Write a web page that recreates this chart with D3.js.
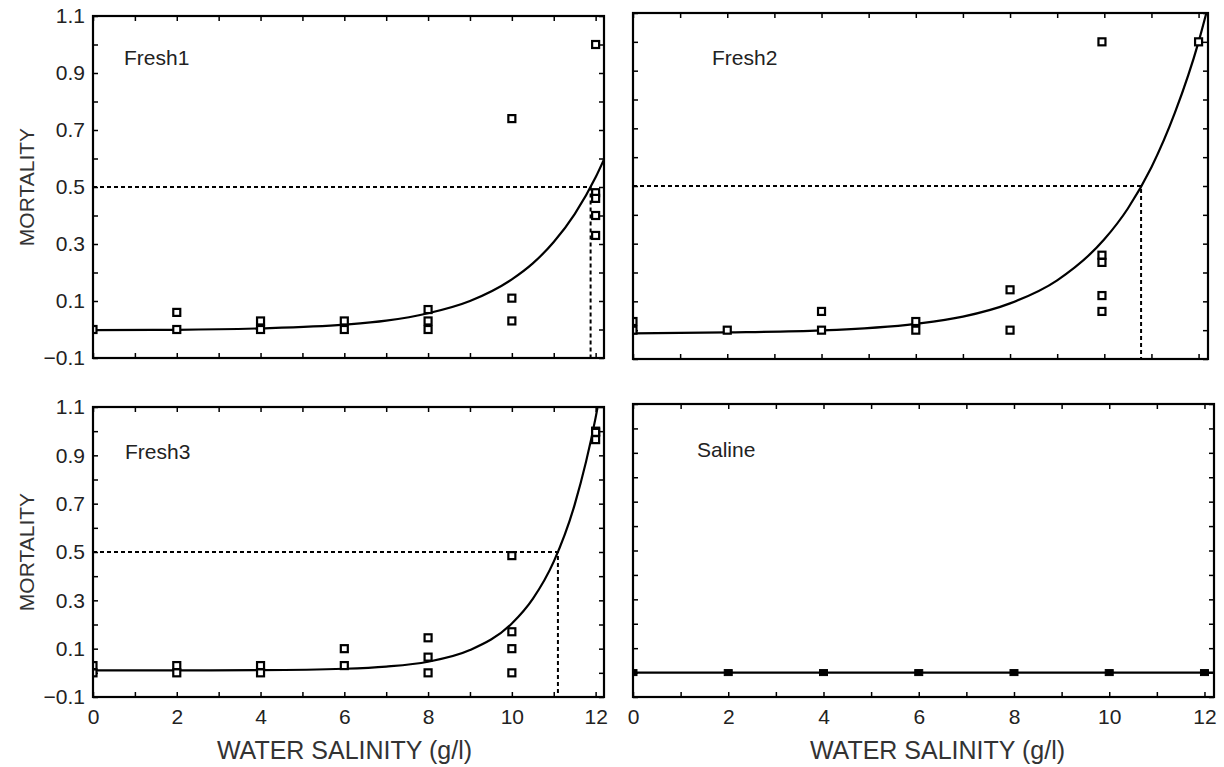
<!DOCTYPE html>
<html>
  <head>
    <meta charset="utf-8">
    <title>Mortality vs water salinity</title>
    <style>
      body { margin: 0; background: #fff; }
      svg { display: block; font-family: "Liberation Sans", Arial, sans-serif; }
      .frame { fill: none; stroke: #000; stroke-width: 2.2px; }
      .fit { fill: none; stroke: #000; stroke-width: 2.2px; }
      .lc50 { fill: none; stroke: #000; stroke-width: 2px; stroke-dasharray: 4 3; }
      .axis path { display: none; }
      .axis line { stroke: #000; stroke-width: 1.5px; }
      .axis text { fill: #222; font-size: 21px; }
    </style>
  </head>
  <body>
    <div class="chart"></div>
    <script src="https://cdn.jsdelivr.net/npm/d3@7"></script>
    <script>

// observed mortality per salinity level (g/l)
var fresh1Points = [[0, 0], [2, 0.06], [2, 0], [4, 0.03], [4, 0], [6, 0.03], [6, 0],
  [8, 0.07], [8, 0.03], [8, 0], [10, 0.74], [10, 0.11], [10, 0.03],
  [12, 1.0], [12, 0.48], [12, 0.46], [12, 0.40], [12, 0.33]];
var fresh2Points = [[0, 0], [0, 0.03], [2, 0], [4, 0.065], [4, 0], [6, 0.03], [6, 0],
  [8, 0.14], [8, 0], [9.95, 1.0], [9.95, 0.26], [9.95, 0.235], [9.95, 0.12], [9.95, 0.065],
  [12, 1.0]];
var fresh3Points = [[0, 0], [0, 0.03], [2, 0.03], [2, 0], [4, 0.03], [4, 0], [6, 0.1], [6, 0.03],
  [8, 0.145], [8, 0.065], [8, 0], [10, 0.485], [10, 0.17], [10, 0.1], [10, 0],
  [12, 1.0], [12, 0.995], [12, 0.965]];
var salinePoints = [[0, 0], [2, 0], [4, 0], [6, 0], [8, 0], [10, 0], [12, 0]];

// fitted curves at these salinities
var fitX = [0, 2, 4, 6, 7, 8, 9, 10, 10.5, 11, 11.5, 12, 12.2];
var fresh1Fit = [-0.002, -0.001, 0.004, 0.017, 0.031, 0.057, 0.10, 0.176, 0.232, 0.307, 0.405, 0.534, 0.597];
var fresh2Fit = [-0.011, -0.008, -0.001, 0.022, 0.047, 0.093, 0.173, 0.315, 0.422, 0.565, 0.755, 1.0, 1.122];
var fresh3Fit = [0.01, 0.01, 0.011, 0.017, 0.026, 0.046, 0.094, 0.204, 0.306, 0.46, 0.696, 1.056, 1.247];
var salineFit = [0, 0, 0, 0, 0, 0, 0, 0, 0, 0, 0, 0, 0];

// salinity where the fit crosses 50 % mortality (null = none)
var lc50 = [11.88, 10.78, 11.1, null];

var panelNames = ['Fresh1', 'Fresh2', 'Fresh3', 'Saline'];
var xTicks = d3.range(0, 13);
var yTicks = d3.range(-1, 12).map(function (i) { return i / 10; });

var width = 1224;
var height = 767;

var svg = d3.select('.chart').append('svg')
    .attr('width', width)
    .attr('height', height);

// panel boxes in page pixels
var panels = [
  { name: panelNames[0], pts: fresh1Points, fit: fresh1Fit, lc: lc50[0], left: 93, right: 604, top: 16, bottom: 358, yLabels: true, xLabels: false, lx: 31, ly: 42, filled: false },
  { name: panelNames[1], pts: fresh2Points, fit: fresh2Fit, lc: lc50[1], left: 633, right: 1208, top: 13, bottom: 359, yLabels: false, xLabels: false, lx: 79, ly: 45, filled: false },
  { name: panelNames[2], pts: fresh3Points, fit: fresh3Fit, lc: lc50[2], left: 93, right: 604, top: 407, bottom: 697, yLabels: true, xLabels: true, lx: 32, ly: 45, filled: false },
  { name: panelNames[3], pts: salinePoints, fit: salineFit, lc: lc50[3], left: 633, right: 1214, top: 404, bottom: 697, yLabels: false, xLabels: true, lx: 64, ly: 46, filled: true }
];

panels.forEach(function (p, i) {
  var w = p.right - p.left;
  var h = p.bottom - p.top;

  var x = d3.scaleLinear().domain([0, 12.2]).range([0, w]);
  var y = d3.scaleLinear().domain([-0.1, 1.1]).range([h, 0]);

  var g = svg.append('g')
      .attr('transform', 'translate(' + p.left + ',' + p.top + ')');

  var clipId = 'clip' + i;
  g.append('clipPath').attr('id', clipId)
    .append('rect').attr('width', w).attr('height', h);

  // inward ticks on all four sides
  g.append('g').attr('class', 'axis')
      .attr('transform', 'translate(0,' + h + ')')
      .call(d3.axisBottom(x).tickValues(xTicks).tickSize(-5).tickPadding(12)
        .tickFormat(function (d) { return p.xLabels && d % 2 === 0 ? d : ''; }));
  g.append('g').attr('class', 'axis')
      .call(d3.axisTop(x).tickValues(xTicks).tickSize(-5).tickFormat(''));
  g.append('g').attr('class', 'axis')
      .call(d3.axisLeft(y).tickValues(yTicks).tickSize(-5).tickPadding(8)
        .tickFormat(function (d, k) { return p.yLabels && k % 2 === 0 ? d3.format('.1f')(d) : ''; }));
  g.append('g').attr('class', 'axis')
      .attr('transform', 'translate(' + w + ',0)')
      .call(d3.axisRight(y).tickValues(yTicks).tickSize(-5).tickFormat(''));

  var plot = g.append('g').attr('clip-path', 'url(#' + clipId + ')');

  // 50 % mortality guide lines
  if (p.lc !== null) {
    plot.append('path')
        .attr('class', 'lc50')
        .attr('d', d3.line()([[x(0), y(0.5)], [x(p.lc), y(0.5)], [x(p.lc), y(-0.1)]]));
  }

  var line = d3.line()
      .curve(d3.curveMonotoneX)
      .x(function (d) { return x(d[0]); })
      .y(function (d) { return y(d[1]); });

  plot.append('path')
      .attr('class', 'fit')
      .attr('d', line(fitX.map(function (v, k) { return [v, p.fit[k]]; })));

  var s = p.filled ? 8 : 7;
  plot.selectAll('rect.pt')
    .data(p.pts)
    .enter().append('rect')
      .attr('class', 'pt')
      .attr('x', function (d) { return x(d[0]) - s / 2; })
      .attr('y', function (d) { return y(d[1]) - (p.filled ? 3 : s / 2); })
      .attr('width', s)
      .attr('height', p.filled ? 6 : s)
      .attr('fill', p.filled ? '#000' : '#fff')
      .attr('stroke', '#000')
      .attr('stroke-width', p.filled ? 1 : 2.2);

  g.append('rect')
      .attr('class', 'frame')
      .attr('width', w)
      .attr('height', h);

  g.append('text')
      .attr('x', p.lx)
      .attr('y', p.ly)
      .attr('dy', '0.35em')
      .attr('font-size', 21)
      .attr('fill', '#222')
      .text(p.name);

  if (p.yLabels) {
    svg.append('text')
        .attr('transform', 'translate(27,' + (p.top + h / 2) + ') rotate(-90)')
        .attr('text-anchor', 'middle')
        .attr('dy', '0.35em')
        .attr('font-size', 21)
        .attr('fill', '#333')
        .text('MORTALITY');
  }

  if (p.xLabels) {
    svg.append('text')
        .attr('x', p.left + w / 2 + (i === 3 ? 14 : -4))
        .attr('y', 750)
        .attr('text-anchor', 'middle')
        .attr('dy', '0.35em')
        .attr('font-size', 25)
        .attr('fill', '#333')
        .text('WATER SALINITY (g/l)');
  }
});

    </script>
  </body>
</html>
